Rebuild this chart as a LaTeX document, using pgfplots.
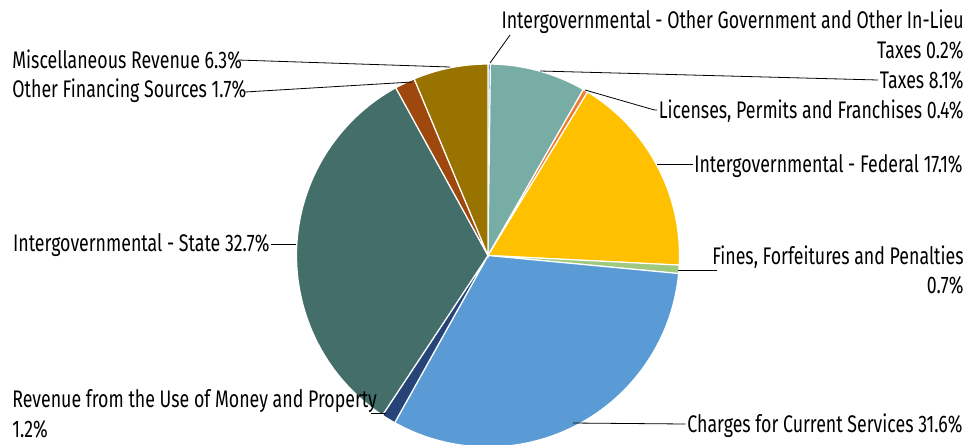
\documentclass[border=0pt]{standalone}
\usepackage{pgfplots}
\pgfplotsset{compat=1.18}
\usepackage{fontspec}
\setmainfont{Fira Sans}[FakeStretch=0.74]

\definecolor{cOther}{HTML}{4472C4}
\definecolor{cTaxes}{HTML}{78ADA6}
\definecolor{cLic}{HTML}{ED7D31}
\definecolor{cFed}{HTML}{FFC000}
\definecolor{cFines}{HTML}{9FC97E}
\definecolor{cCharges}{HTML}{5B9BD5}
\definecolor{cRev}{HTML}{264478}
\definecolor{cState}{HTML}{436E69}
\definecolor{cFin}{HTML}{9E480E}
\definecolor{cMisc}{HTML}{997300}

% pie slices, clockwise from the top; percent and colour
\def\curang{90}
\newcommand{\slice}[2]{%
  \pgfmathsetmacro{\nextang}{\curang-3.6*#1}%
  \fill[#2,draw=white,line width=0.9pt] (axis cs:488,255.5) -- ++(\curang:143.6pt)
    arc[start angle=\curang,end angle=\nextang,radius=143.6pt] -- cycle;%
  \global\let\curang\nextang}

\begin{document}
\begin{tikzpicture}
\begin{axis}[scale only axis,width=726.75pt,height=333pt,
  xmin=0,xmax=969,ymin=0,ymax=444,y dir=reverse,
  hide axis,clip=false]
\pgfplotsextra{
  \slice{0.2}{cOther}
  \slice{8.1}{cTaxes}
  \slice{0.4}{cLic}
  \slice{17.1}{cFed}
  \slice{0.7}{cFines}
  \slice{31.6}{cCharges}
  \slice{1.2}{cRev}
  \slice{32.7}{cState}
  \slice{1.7}{cFin}
  \slice{6.3}{cMisc}
}
\coordinate (bl) at (axis cs:0,444);
\coordinate (tr) at (axis cs:969,0);
\begin{scope}[every node/.style={inner sep=0pt,font=\fontsize{18pt}{22.5pt}\selectfont},
  line width=0.6pt, lead/.style={xshift=-1pt,yshift=6pt}]
  \draw (axis cs:490,63) -- (axis cs:510,35);
  \node[anchor=base east] at (axis cs:964,28) {Intergovernmental - Other Government and Other In-Lieu};
  \node[anchor=base east] at (axis cs:964,58) {Taxes 0.2\%};
  \node[anchor=base east] (tx) at (axis cs:964,88) {Taxes 8.1\%};
  \draw (axis cs:540,71) -- ([lead]tx.base west);
  \node[anchor=base east] (li) at (axis cs:964,118) {Licenses, Permits and Franchises 0.4\%};
  \draw (axis cs:585,90) -- ([lead,xshift=-2pt]li.base west) -- ([lead]li.base west);
  \node[anchor=base east] (fe) at (axis cs:963,172) {Intergovernmental - Federal 17.1\%};
  \draw (axis cs:657,164) -- ([lead]fe.base west);
  \draw (axis cs:678,270) -- (axis cs:717,270);
  \node[anchor=base east] at (axis cs:964,264) {Fines, Forfeitures and Penalties};
  \node[anchor=base east] at (axis cs:964,293) {0.7\%};
  \node[anchor=base east] (ch) at (axis cs:963,432) {Charges for Current Services 31.6\%};
  \draw (axis cs:573,423) -- ([lead]ch.base west);
  \draw (axis cs:371,413) -- (axis cs:386,413);
  \node[anchor=base west] at (axis cs:12,407) {Revenue from the Use of Money and Property};
  \node[anchor=base west] at (axis cs:12,437) {1.2\%};
  \draw (axis cs:271,244) -- (axis cs:296,244);
  \node[anchor=base east] at (axis cs:270,251) {Intergovernmental - State 32.7\%};
  \draw (axis cs:245,92) -- (axis cs:412,82);
  \node[anchor=base west] at (axis cs:12,97) {Other Financing Sources 1.7\%};
  \draw (axis cs:238,60) -- (axis cs:450,67);
  \node[anchor=base west] at (axis cs:12,68) {Miscellaneous Revenue 6.3\%};
\end{scope}
\end{axis}
\pgfresetboundingbox
\useasboundingbox (bl) rectangle (tr);
\end{tikzpicture}
\end{document}
